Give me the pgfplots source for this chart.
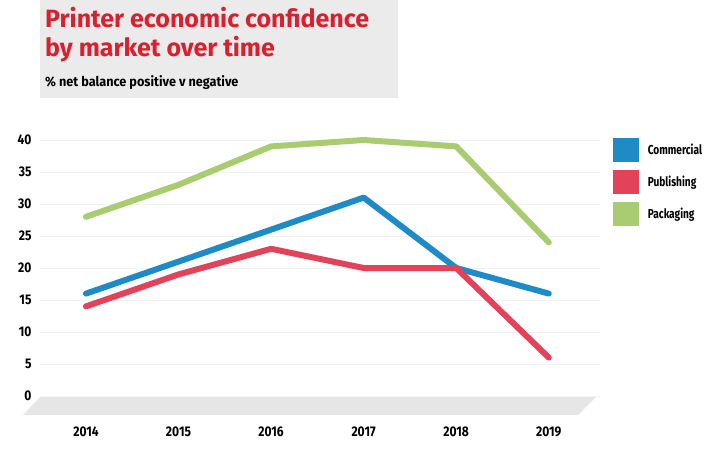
\documentclass[border=0pt]{standalone}
\usepackage{fontspec}
\setmainfont{Fira Sans}
\newfontfamily\condfont{Fira Sans}[FakeStretch=0.78]
\newfontfamily\subfont{Fira Sans}[FakeStretch=0.94]
\newfontfamily\tickfont{Fira Sans}[FakeStretch=0.86]
\newfontfamily\titlefont{Fira Sans}
\usepackage{pgfplots}
\pgfplotsset{compat=1.18}

\definecolor{commercial}{HTML}{1E8BC6}
\definecolor{publishing}{HTML}{E2435A}
\definecolor{packaging}{HTML}{A8CC6F}
\definecolor{titlered}{HTML}{D8202E}
\definecolor{boxgray}{HTML}{EBEBEB}
\definecolor{floorgray}{HTML}{E6E6E6}

\begin{document}
\begin{tikzpicture}[x=1pt,y=1pt]
  \useasboundingbox (0,0) rectangle (719,448);
  % title box
  \fill[boxgray] (40,350) rectangle (398,448);
  \node[anchor=base west, inner sep=0pt, text=titlered, font=\titlefont\bfseries\fontsize{25}{28}\selectfont]
    at (45,420) {Printer economic confidence};
  \node[anchor=base west, inner sep=0pt, text=titlered, font=\titlefont\bfseries\fontsize{25}{28}\selectfont]
    at (45,391) {by market over time};
  \node[anchor=base west, inner sep=0pt, font=\subfont\bfseries\fontsize{13.5}{15}\selectfont]
    at (45,361) {\% net balance positive v negative};
  % floor
  \fill[floorgray] (40,51) -- (596,51) -- (578,33) -- (23,33) -- cycle;

  \begin{axis}[
      at={(39.7pt,52pt)}, anchor=south west,
      scale only axis,
      width=560pt, height=256pt,
      xmin=2013.5, xmax=2019.55,
      ymin=0, ymax=40,
      clip=false,
      axis line style={draw=none},
      major tick style={draw=none},
      xtick={2014,...,2019},
      ytick={0,5,...,40},
      xticklabel style={anchor=center, yshift=-36pt,
        font=\tickfont\bfseries\fontsize{14}{15}\selectfont},
      yticklabel style={anchor=east, xshift=-8pt, inner sep=0pt,
        font=\tickfont\bfseries\fontsize{14}{15}\selectfont},
      /pgf/number format/assume math mode=true,
      /pgf/number format/1000 sep={},
      ymajorgrids,
      grid style={draw=black!5, line width=1pt},
      legend style={draw=none, fill=none, at={(1.023,1.01)}, anchor=north west,
        inner sep=0pt, row sep=8pt,
        font=\condfont\bfseries\fontsize{13}{14}\selectfont,
        nodes={inner xsep=9pt, inner ysep=0pt}},
      legend cell align=left,
      legend image code/.code={\fill[#1, draw=none] (0pt,-12pt) rectangle (26pt,12pt);},
      every axis plot/.append style={line width=6pt, line join=round, line cap=round},
    ]
    \addplot[commercial] coordinates {
      (2014,16) (2015,21) (2016,26) (2017,31) (2018,20) (2019,16)};
    \addlegendentry{Commercial}
    \addplot[publishing] coordinates {
      (2014,14) (2015,19) (2016,23) (2017,20) (2018,20) (2019,6)};
    \addlegendentry{Publishing}
    \addplot[packaging] coordinates {
      (2014,28) (2015,33) (2016,39) (2017,40) (2018,39) (2019,24)};
    \addlegendentry{Packaging}
  \end{axis}
\end{tikzpicture}
\end{document}
